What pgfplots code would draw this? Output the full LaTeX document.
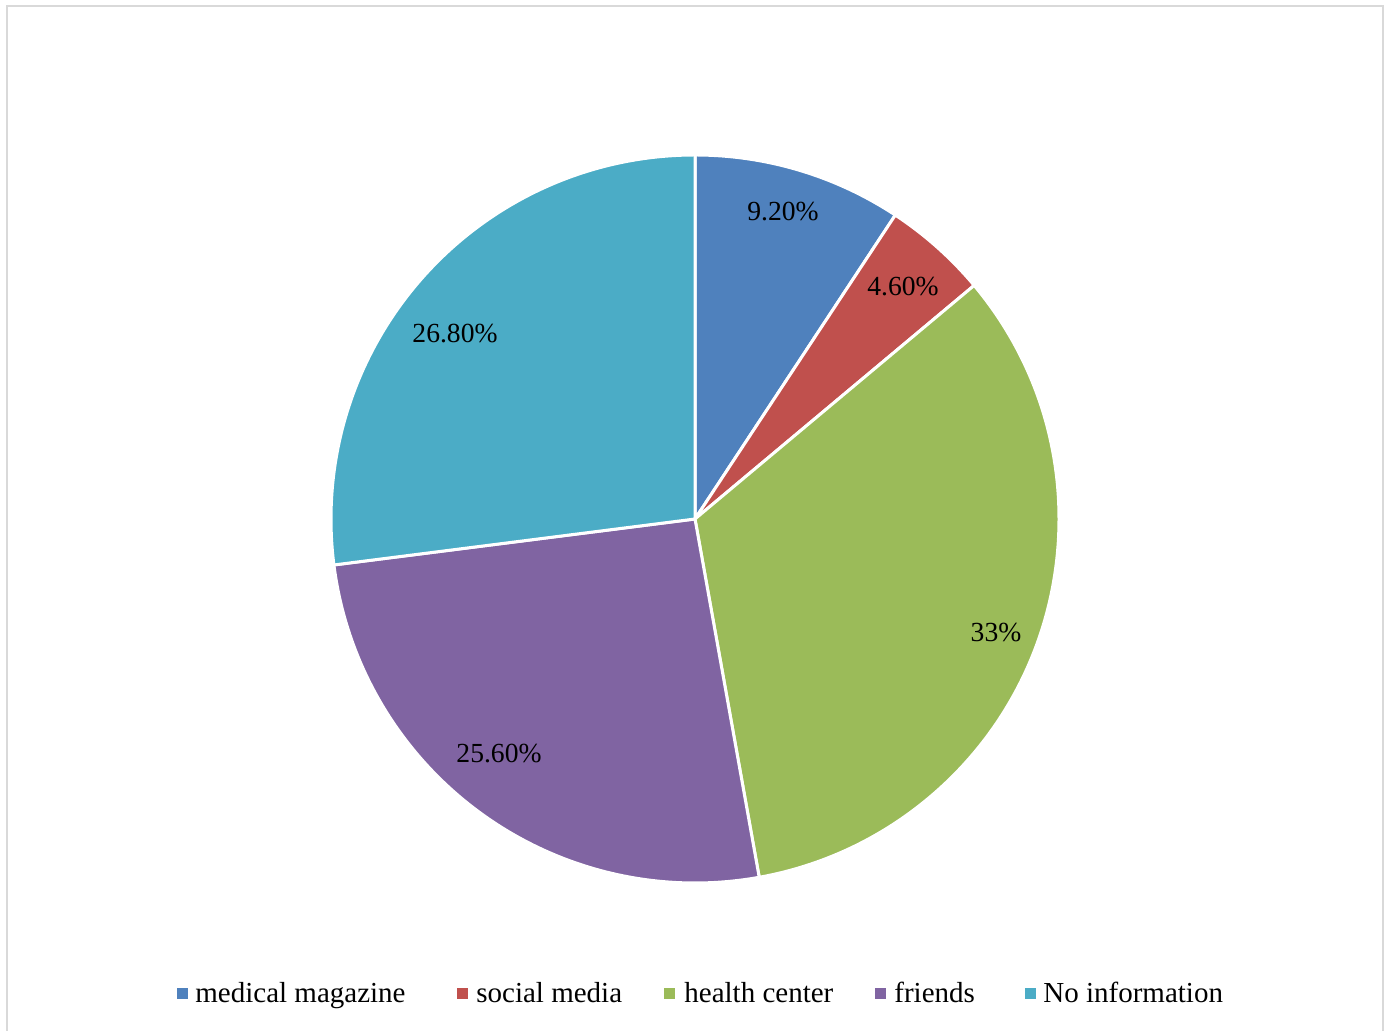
\documentclass[border=0pt]{standalone}
\usepackage{pgfplots}
\pgfplotsset{compat=1.18}
\usepackage{fontspec}
\setmainfont{Liberation Serif}
\definecolor{c1}{HTML}{4F81BD}
\definecolor{c2}{HTML}{C0504D}
\definecolor{c3}{HTML}{9BBB59}
\definecolor{c4}{HTML}{8064A2}
\definecolor{c5}{HTML}{4BACC6}
\definecolor{bord}{HTML}{D9D9D9}
\begin{document}
\begin{tikzpicture}
\begin{axis}[width=694bp,height=514.5bp,scale only axis,xmin=0,xmax=1388,ymin=0,ymax=1029,hide axis,clip=false]
\path (axis cs:0,0) rectangle (axis cs:1388,1029);
\draw[bord,line width=1bp] (axis cs:7,-2) -- (axis cs:7,1023) -- (axis cs:1383,1023) -- (axis cs:1383,-2);
% slices: 9.2, 4.6, 33, 25.6, 26.8 (total 99.2), clockwise from 12 o'clock
\filldraw[fill=c1,draw=white,line width=1.5bp,line join=round] (axis cs:695,510) -- +({90-0/99.2*360}:182bp) arc[start angle={90-0/99.2*360}, end angle={90-9.2/99.2*360}, radius=182bp] -- cycle;
\filldraw[fill=c2,draw=white,line width=1.5bp,line join=round] (axis cs:695,510) -- +({90-9.2/99.2*360}:182bp) arc[start angle={90-9.2/99.2*360}, end angle={90-13.8/99.2*360}, radius=182bp] -- cycle;
\filldraw[fill=c3,draw=white,line width=1.5bp,line join=round] (axis cs:695,510) -- +({90-13.8/99.2*360}:182bp) arc[start angle={90-13.8/99.2*360}, end angle={90-46.8/99.2*360}, radius=182bp] -- cycle;
\filldraw[fill=c4,draw=white,line width=1.5bp,line join=round] (axis cs:695,510) -- +({90-46.8/99.2*360}:182bp) arc[start angle={90-46.8/99.2*360}, end angle={90-72.4/99.2*360}, radius=182bp] -- cycle;
\filldraw[fill=c5,draw=white,line width=1.5bp,line join=round] (axis cs:695,510) -- +({90-72.4/99.2*360}:182bp) arc[start angle={90-72.4/99.2*360}, end angle={90-99.2/99.2*360}, radius=182bp] -- cycle;
% data labels
\begin{scope}[every node/.style={font=\fontsize{13.8bp}{16bp}\selectfont,inner sep=0pt}]
\node at (axis cs:783,817) {9.20\%};
\node at (axis cs:903,742) {4.60\%};
\node at (axis cs:996,396) {33\%};
\node at (axis cs:499,275) {25.60\%};
\node at (axis cs:455,695) {26.80\%};
\end{scope}
% legend
\begin{scope}[every node/.style={font=\fontsize{14.5bp}{17bp}\selectfont,inner sep=0pt,anchor=base west}]
\fill[c1] (axis cs:177,30) rectangle (axis cs:188,41);
\node at (axis cs:195,27) {medical magazine};
\fill[c2] (axis cs:457,30) rectangle (axis cs:468,41);
\node at (axis cs:476,27) {social media};
\fill[c3] (axis cs:664,30) rectangle (axis cs:675,41);
\node at (axis cs:684,27) {health center};
\fill[c4] (axis cs:875,30) rectangle (axis cs:886,41);
\node at (axis cs:894,27) {friends};
\fill[c5] (axis cs:1025,30) rectangle (axis cs:1036,41);
\node at (axis cs:1043,27) {No information};
\end{scope}
\end{axis}
\end{tikzpicture}
\end{document}
